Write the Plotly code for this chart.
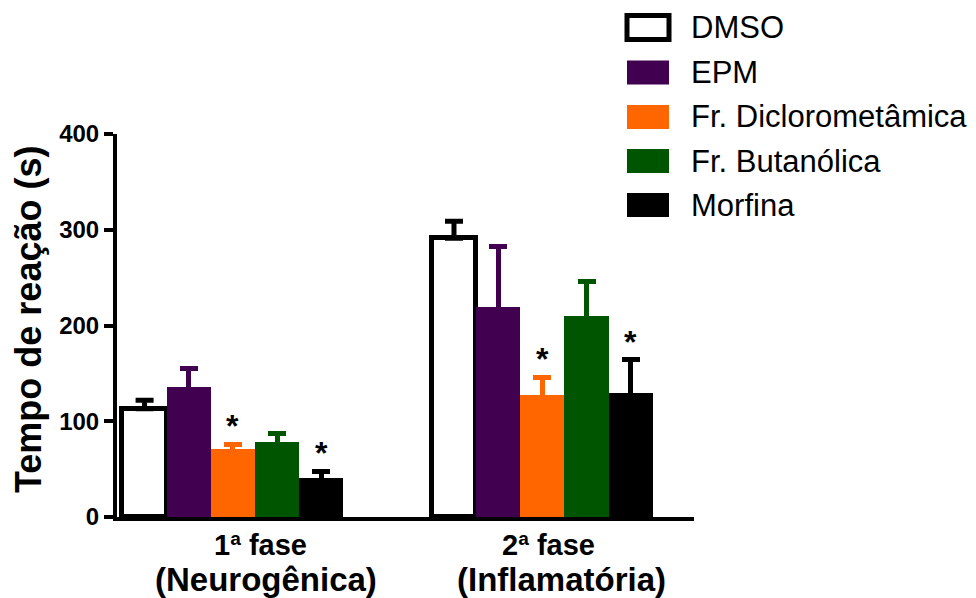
import plotly.graph_objects as go

# ---------------- data ----------------
categories = ["1ª fase<br>(Neurogênica)", "2ª fase<br>(Inflamatória)"]
series_names = ["DMSO", "EPM", "Fr. Diclorometâmica", "Fr. Butanólica", "Morfina"]
series_colors = ["#FFFFFF", "#420050", "#FF6600", "#005500", "#000000"]

dmso = [113, 291]
dmso_err = [9, 18]
epm = [136, 219]
epm_err = [19, 64]
fr_diclo = [71, 127]
fr_diclo_err = [5, 19]
fr_buta = [78, 210]
fr_buta_err = [9, 36]
morfina = [41, 129]
morfina_err = [7, 35]

values = [dmso, epm, fr_diclo, fr_buta, morfina]
errors = [dmso_err, epm_err, fr_diclo_err, fr_buta_err, morfina_err]
# significance marks (series index, group index)
significant = [(2, 0), (4, 0), (2, 1), (4, 1)]

y_ticks = [0, 100, 200, 300, 400]
y_title = "Tempo de reação (s)"

# ---------------- layout helpers ----------------
FONT = "Liberation Sans, Arial, sans-serif"
group_start = [0, 7]          # x slot of first bar in each group
n_series = len(series_names)
group_centers = [g + (n_series - 1) / 2 for g in group_start]

L, R, T, B = 117, 282, 134, 81
W, H = 976, 598
plot_w = W - L - R
plot_h = H - T - B


def px_to_paper_x(px):
    return (px - L) / plot_w


def px_to_paper_y(py):
    return (H - B - py) / plot_h


fig = go.Figure()

ERR_INSET = 4  # lower end of error bar hidden inside coloured bars
for i, name in enumerate(series_names):
    xs = [g + i for g in group_start]
    is_outline = series_colors[i].upper() == "#FFFFFF"
    err_color = "#000000" if is_outline else series_colors[i]
    inset = 0 if is_outline else ERR_INSET
    fig.add_trace(go.Bar(
        x=xs,
        y=values[i],
        width=1,
        name=name,
        marker=dict(
            color=series_colors[i],
            line=dict(color="#000000", width=5 if is_outline else 0),
        ),
        error_y=dict(
            type="data",
            symmetric=False,
            array=errors[i],
            arrayminus=[inset] * len(errors[i]),
            color=err_color,
            thickness=5,
            width=9,
        ),
        showlegend=False,
    ))

# asterisks above significant bars
for si, gi in significant:
    fig.add_annotation(
        x=group_start[gi] + si,
        y=values[si][gi] + errors[si][gi],
        text="*",
        showarrow=False,
        xref="x", yref="y",
        yanchor="bottom",
        yshift=-2,
        font=dict(family=FONT, size=32, color="#000000", weight="bold"),
    )

# category labels (two lines, second line larger as in the original)
line1_px_x = [260, 548]
line2_px_x = [266, 561]
for gi, cat in enumerate(categories):
    l1, l2 = cat.split("<br>")
    fig.add_annotation(
        x=px_to_paper_x(line1_px_x[gi]), y=px_to_paper_y(545),
        xref="paper", yref="paper", text=l1, showarrow=False,
        xanchor="center", yanchor="middle",
        font=dict(family=FONT, size=29, color="#000000", weight="bold"),
    )
    fig.add_annotation(
        x=px_to_paper_x(line2_px_x[gi]), y=px_to_paper_y(579),
        xref="paper", yref="paper", text=l2, showarrow=False,
        xanchor="center", yanchor="middle",
        font=dict(family=FONT, size=33, color="#000000", weight="bold"),
    )

# y axis title
fig.add_annotation(
    x=px_to_paper_x(28), y=px_to_paper_y(320),
    xref="paper", yref="paper", text=y_title, showarrow=False,
    textangle=-90, xanchor="center", yanchor="middle",
    font=dict(family=FONT, size=36, color="#000000", weight="bold"),
)

# custom legend (large swatches)
row_y = [27.5, 72.5, 117, 161, 205]
sw_x0, sw_x1 = 627, 669
sw_h = 24
for i, name in enumerate(series_names):
    is_outline = series_colors[i].upper() == "#FFFFFF"
    fig.add_shape(
        type="rect", xref="paper", yref="paper",
        x0=px_to_paper_x(sw_x0), x1=px_to_paper_x(sw_x1),
        y0=px_to_paper_y(row_y[i] + sw_h / 2), y1=px_to_paper_y(row_y[i] - sw_h / 2),
        fillcolor=series_colors[i],
        line=dict(color="#000000", width=5 if is_outline else 0),
        layer="above",
    )
    fig.add_annotation(
        x=px_to_paper_x(689), y=px_to_paper_y(row_y[i]),
        xref="paper", yref="paper",
        text=name, showarrow=False,
        xanchor="left", yanchor="middle",
        font=dict(family=FONT, size=31, color="#000000"),
    )

fig.update_layout(
    width=W, height=H,
    margin=dict(l=L, r=R, t=T, b=B),
    paper_bgcolor="white",
    plot_bgcolor="white",
    barmode="overlay",
    bargap=0,
    font=dict(family=FONT, color="#000000"),
    xaxis=dict(
        range=[-0.624, 12.43],
        tickmode="array",
        tickvals=group_centers,
        showticklabels=False,
        ticks="",
        showgrid=False,
        zeroline=False,
        showline=True,
        linecolor="#000000",
        linewidth=4,
        automargin=False,
        fixedrange=True,
    ),
    yaxis=dict(
        range=[0, 400],
        tickmode="array",
        tickvals=y_ticks,
        ticks="outside",
        ticklen=9,
        tickwidth=4,
        tickcolor="#000000",
        showgrid=False,
        zeroline=False,
        showline=True,
        linecolor="#000000",
        linewidth=4,
        tickfont=dict(family=FONT, size=24, color="#000000", weight="bold"),
        automargin=False,
        fixedrange=True,
    ),
)

fig.write_html(
    "out.html",
    config={"displayModeBar": False},
    post_script="document.body.style.margin='0px';document.body.style.overflow='hidden';",
)
